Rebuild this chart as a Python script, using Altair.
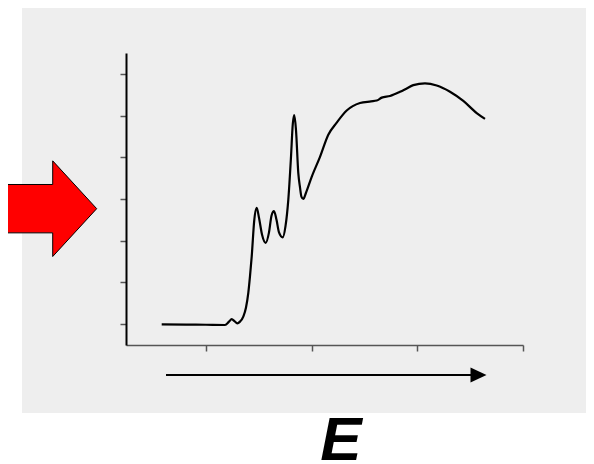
import altair as alt
import pandas as pd

# Spectrum (arbitrary energy units vs. absorbance)
energy = [35.7, 60, 80, 99, 103, 105.7, 108.5, 111.3, 114, 117.3, 120, 122.3, 124,
          125.7, 128.3, 130.7, 133, 136, 139.7, 143, 145.5, 148, 150.5, 153, 156.7,
          159.5, 162.3, 165, 166.8, 168.3, 170, 172.3, 174, 175.5, 177.3, 180, 185.7,
          194, 202.3, 210.7, 220.7, 234, 245, 250.7, 255.7, 264, 274, 280.7, 287.3,
          299, 310.7, 324, 337.3, 350.7, 359]
absorbance = [0.496, 0.49, 0.485, 0.48, 0.56, 0.62, 0.57, 0.52, 0.56, 0.68, 0.9, 1.25, 1.65,
              2.12, 3.0, 3.29, 3.05, 2.65, 2.45, 2.7, 3.1, 3.21, 3.0, 2.7, 2.58,
              2.85, 3.48, 4.51, 5.3, 5.51, 5.15, 4.12, 3.78, 3.55, 3.5, 3.65, 4.03,
              4.51, 5.04, 5.33, 5.62, 5.8, 5.84, 5.86, 5.93, 5.97, 6.07, 6.15, 6.23,
              6.27, 6.22, 6.07, 5.85, 5.56, 5.42]

x_ticks = [80, 185.5, 291, 396.5]
y_ticks = [0.5, 1.5, 2.5, 3.5, 4.5, 5.5, 6.5]

# decorations (in data units)
panel = pd.DataFrame({"x": [-104], "x2": [468], "y": [-1.63], "y2": [8.10]})
red_arrow = pd.DataFrame({"x": [-79.8], "y": [3.268]})
e_shaft = pd.DataFrame({"x": [40, 346], "y": [-0.719, -0.719]})
e_head = pd.DataFrame({"x": [352.5], "y": [-0.719]})
label = pd.DataFrame({"x": [215], "y": [-2.757], "t": ["E"]})

spec = pd.DataFrame({"x": energy, "y": absorbance})

RED_ARROW_PATH = ("M-1,-0.479 L0.129,-0.479 L0.129,-0.9475 L1,0 "
                  "L0.129,0.9475 L0.129,0.479 L-1,0.479 Z")
HEAD_PATH = "M-1,-0.9375 L1,0 L-1,0.9375 Z"

xs = alt.Scale(domain=[0, 397], nice=False, zero=False)
ys = alt.Scale(domain=[0, 7], nice=False, zero=False)
ax_x = alt.Axis(values=x_ticks, labels=False, title=None, grid=False, ticks=True,
                tickSize=6, tickColor="#555555", tickWidth=1.5,
                domainColor="#555555", domainWidth=1.5, zindex=1)
ax_y = alt.Axis(values=y_ticks, labels=False, title=None, grid=False, ticks=True,
                tickSize=6, tickColor="#555555", tickWidth=1.5,
                domainColor="#000000", domainWidth=2, zindex=1)

X = lambda: alt.X("x:Q", scale=xs, axis=ax_x)
Y = lambda: alt.Y("y:Q", scale=ys, axis=ax_y)

bg = alt.Chart(panel).mark_rect(color="#eeeeee").encode(
    x=X(), x2="x2:Q", y=Y(), y2="y2:Q")

arrow_red = alt.Chart(red_arrow).mark_point(
    shape=RED_ARROW_PATH, size=10201, filled=True, fill="#ff0000",
    stroke="#000000", strokeWidth=1, opacity=1
).encode(x=X(), y=Y())

curve = alt.Chart(spec).mark_line(
    color="#000000", strokeWidth=2.2, interpolate="monotone"
).encode(x=X(), y=Y())

shaft = alt.Chart(e_shaft).mark_line(color="#000000", strokeWidth=2).encode(x=X(), y=Y())
head = alt.Chart(e_head).mark_point(
    shape=HEAD_PATH, size=256, filled=True, fill="#000000", strokeWidth=0, opacity=1
).encode(x=X(), y=Y())

text = alt.Chart(label).mark_text(
    font="Liberation Sans", fontSize=62, fontWeight="bold", fontStyle="italic",
    align="center", baseline="alphabetic", color="#000000"
).encode(x=X(), y=Y(), text="t:N")

chart = alt.layer(bg, arrow_red, curve, shaft, head, text).properties(
    width=397, height=292,
    autosize=alt.AutoSizeParams(type="none"),
    padding={"left": 118, "top": 45, "right": 63, "bottom": 119},
).configure_view(strokeWidth=0)

chart.save("out.html", embed_options={"renderer": "svg", "actions": False})
